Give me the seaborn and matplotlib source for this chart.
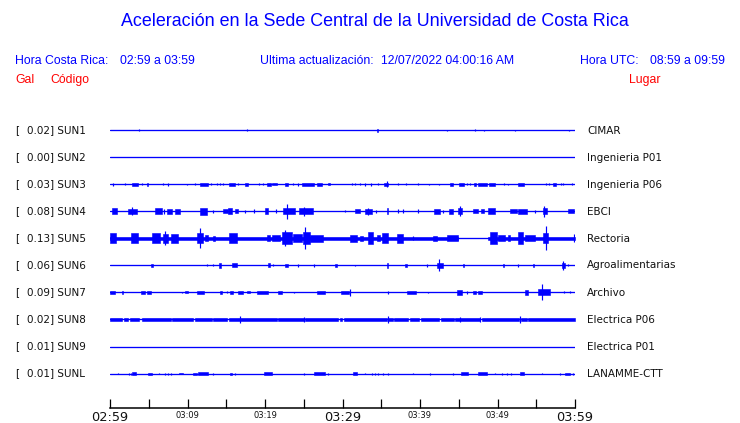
import matplotlib
matplotlib.use("Agg")
import matplotlib.pyplot as plt
import pandas as pd
import seaborn as sns

# ---------------- data ----------------
codes = ["SUN1", "SUN2", "SUN3", "SUN4", "SUN5", "SUN6", "SUN7", "SUN8", "SUN9", "SUNL"]
places = ["CIMAR", "Ingenieria P01", "Ingenieria P06", "EBCI", "Rectoria",
          "Agroalimentarias", "Archivo", "Electrica P06", "Electrica P01", "LANAMME-CTT"]
gal = [0.02, 0.00, 0.03, 0.08, 0.13, 0.06, 0.09, 0.02, 0.01, 0.01]

tick_minutes = [0, 5, 10, 15, 20, 25, 30, 35, 40, 45, 50, 55, 60]
tick_labels = ["02:59", "", "03:09", "", "03:19", "", "03:29", "", "03:39", "", "03:49", "", "03:59"]
major_labels = ["02:59", "03:29", "03:59"]

# bursts: (start minute, end minute, half amplitude)
ev_sun1 = [(3.78, 3.78, 1), (17.7, 17.7, 1), (34.4, 34.6, 1.3), (43.5, 43.5, 0.8),
           (47.1, 47.1, 1), (48.3, 48.3, 0.7), (52.3, 52.3, 0.8), (59.2, 59.2, 0.7)]
ev_sun2 = []
ev_sun3 = [(0.43, 0.43, 1.3), (1.94, 1.94, 1), (2.8, 3.66, 1.3), (4.17, 4.17, 1), (4.73, 4.95, 1.3),
           (6.88, 6.88, 1), (7.53, 7.53, 1.3), (9.89, 9.89, 0.8), (10.97, 10.97, 1), (11.61, 12.6, 1.3),
           (13.03, 13.03, 1), (13.76, 13.76, 1), (14.19, 14.19, 1), (14.62, 14.62, 1), (15.35, 16.13, 1.3),
           (16.56, 16.56, 1), (17.42, 17.85, 1.3), (19.23, 19.23, 1), (19.78, 19.78, 1), (20.3, 20.73, 1.3),
           (20.86, 21.51, 1), (22.58, 23.01, 1.3), (23.66, 23.66, 1), (24.3, 24.3, 1.3), (24.82, 26.28, 1.3),
           (26.75, 27.31, 1.3), (28.09, 28.43, 1), (31.27, 31.27, 1), (31.61, 31.61, 1), (32.26, 32.26, 1),
           (32.9, 32.9, 1.3), (33.63, 33.63, 1.3), (34.62, 34.62, 1), (35.4, 35.91, 1.6), (35.7, 35.7, 3),
           (37.2, 37.2, 1), (38.19, 38.19, 1), (39.78, 39.78, 1), (41.2, 41.2, 0.8), (42.49, 42.49, 0.8),
           (43.87, 44.22, 1.3), (45.03, 45.63, 1.3), (46.02, 46.02, 1), (46.45, 46.45, 1), (47.01, 47.27, 1.3),
           (47.53, 48.6, 1.3), (48.9, 49.68, 1.3), (50.88, 50.88, 1), (51.4, 51.4, 0.8), (52.69, 53.38, 1.3),
           (56.22, 56.22, 1), (56.65, 56.65, 1), (57.2, 57.5, 1.3), (58.19, 58.19, 1), (58.5, 58.5, 1),
           (59.57, 59.57, 1)]
ev_sun4 = [(0.2, 0.86, 3), (2.37, 3.44, 2.5), (2.8, 2.8, 4), (5.81, 6.67, 3), (7.01, 7.01, 2.5),
           (7.31, 7.96, 2.5), (8.39, 9.03, 2.5), (11.61, 12.47, 3.5), (13.25, 13.25, 1.7), (14.62, 15.18, 2),
           (15.27, 15.78, 3), (16.13, 16.56, 2), (17.42, 17.42, 1.3), (18.62, 18.62, 2), (20.0, 20.34, 3),
           (21.38, 21.38, 2), (22.37, 23.87, 3), (22.8, 22.8, 7.3), (24.43, 26.24, 3), (25.08, 25.08, 4.5),
           (30.32, 30.32, 1), (31.61, 32.26, 2), (32.9, 33.76, 2.5), (33.33, 33.33, 3.5), (34.28, 34.28, 1.3),
           (35.7, 35.91, 3), (37.2, 37.2, 2), (37.85, 37.85, 2), (39.78, 39.78, 2), (41.81, 42.58, 2.5),
           (43.01, 43.01, 1.3), (43.74, 44.3, 2.5), (44.95, 45.46, 3), (45.16, 45.16, 5), (46.8, 47.44, 2),
           (47.87, 48.3, 2), (48.82, 49.68, 3), (51.61, 52.47, 2), (52.69, 53.76, 2.3), (54.84, 54.84, 1.3),
           (55.83, 56.34, 3), (56.04, 56.04, 5.5), (59.05, 59.91, 2)]
ev_sun5 = [(0.0, 44.9, 1.3), (48.8, 60.0, 1.3),
           (0.0, 0.73, 5), (2.71, 3.57, 5), (5.38, 6.45, 5), (6.88, 7.53, 4.5), (7.1, 7.1, 7),
           (7.87, 8.73, 4.5), (11.18, 12.04, 5), (11.61, 11.61, 10), (12.26, 12.69, 3), (13.33, 13.55, 2.5),
           (15.35, 16.34, 5), (20.22, 20.65, 3), (20.86, 21.94, 3), (22.15, 23.44, 6), (22.58, 22.58, 8),
           (23.66, 24.73, 4), (24.95, 25.81, 6), (25.16, 25.16, 11), (25.81, 27.53, 3.5), (30.97, 31.83, 3.5),
           (32.26, 32.69, 2.5), (33.33, 33.98, 6), (34.41, 34.84, 3), (35.14, 35.83, 5), (36.99, 37.85, 4.5),
           (39.14, 39.14, 2), (41.72, 42.15, 2.5), (43.44, 44.95, 3), (49.03, 49.89, 6), (50.02, 50.97, 3),
           (51.4, 51.61, 3), (52.69, 53.33, 6), (53.55, 54.84, 3), (55.91, 56.56, 5), (56.22, 56.22, 12),
           (59.91, 59.91, 4)]
ev_sun6 = [(5.29, 5.59, 1.3), (12.56, 12.56, 1), (13.33, 13.33, 1), (14.11, 14.28, 2.3), (15.78, 16.34, 2),
           (20.43, 20.65, 2), (21.08, 21.08, 1), (22.58, 23.01, 1.7), (24.3, 24.3, 1.3), (26.37, 26.37, 1.3),
           (29.03, 29.25, 1.7), (31.61, 31.61, 0.7), (35.7, 35.91, 2.3), (38.06, 38.28, 1.7), (40.95, 40.95, 1.3),
           (42.24, 43.01, 2.5), (42.49, 42.49, 6), (45.59, 45.72, 1.7), (50.67, 50.8, 1.7), (52.6, 52.6, 1.3),
           (54.62, 54.75, 1.7), (58.37, 58.71, 2.5), (58.49, 58.49, 4.7), (59.05, 59.05, 1)]
ev_sun7 = [(0.0, 0.65, 1.3), (1.51, 1.63, 1.3), (4.0, 4.52, 1.5), (4.82, 5.29, 1.5), (9.25, 9.25, 0.7),
           (9.68, 10.11, 1), (11.18, 12.09, 1.5), (14.19, 14.41, 1.5), (15.05, 15.05, 1), (15.48, 15.91, 1.3),
           (16.47, 17.2, 1.5), (17.63, 18.06, 1), (18.92, 20.43, 1.5), (21.72, 22.15, 1.5), (23.78, 23.78, 0.7),
           (26.75, 27.74, 1.5), (29.81, 30.88, 1.3), (31.01, 31.01, 3.7), (35.83, 35.83, 1.3), (38.28, 39.44, 1.5),
           (41.08, 41.08, 0.7), (44.73, 45.46, 2.3), (46.02, 46.02, 1.3), (46.88, 47.18, 1.7), (47.53, 47.96, 1.7),
           (53.55, 53.89, 2.3), (55.27, 56.77, 3), (55.7, 55.7, 8), (58.62, 58.62, 1), (59.35, 59.35, 1)]
ev_sun8 = [(0.0, 1.59, 1.3), (1.85, 2.28, 1.3), (2.54, 3.74, 1.3), (4.17, 7.87, 1.3), (8.04, 10.75, 1.3),
           (10.97, 13.12, 1.3), (13.29, 15.1, 1.3), (15.35, 21.51, 1.3), (21.72, 24.99, 1.3), (25.16, 29.38, 1.3),
           (29.63, 29.98, 1.3), (30.24, 35.74, 1.3), (35.91, 36.52, 1.3), (36.69, 38.49, 1.3), (38.67, 39.91, 1.3),
           (40.09, 42.49, 1.3), (42.67, 44.34, 1.3), (44.52, 47.78, 1.3), (47.96, 52.82, 1.3), (52.99, 53.81, 1.3),
           (53.98, 60.0, 1.3), (16.77, 16.77, 3), (25.08, 25.08, 2.5), (35.83, 35.83, 3), (45.16, 45.16, 2.5),
           (47.74, 47.74, 2.5), (52.9, 52.9, 3)]
ev_sun9 = []
ev_sunl = [(1.08, 1.08, 0.7), (2.45, 2.45, 1), (2.71, 2.71, 1), (2.88, 3.31, 1.3), (4.95, 5.38, 1),
           (6.32, 6.32, 0.7), (7.1, 7.1, 1), (7.53, 7.53, 1), (7.83, 7.83, 1), (8.9, 9.46, 0.8),
           (10.75, 11.18, 1), (11.31, 12.69, 1.5), (13.33, 13.33, 1), (15.48, 15.7, 1), (16.13, 16.13, 1),
           (19.91, 20.86, 1.3), (25.08, 25.08, 1), (26.37, 27.74, 1.5), (28.17, 28.17, 1), (31.4, 31.83, 1.3),
           (32.9, 32.9, 0.7), (33.76, 33.76, 1), (34.19, 34.19, 1), (34.62, 34.62, 1), (35.27, 35.27, 1),
           (35.83, 35.83, 1), (39.14, 39.14, 0.7), (41.29, 41.29, 1), (44.3, 44.3, 1), (45.29, 46.24, 1.5),
           (47.44, 48.6, 1.5), (49.68, 49.68, 0.7), (50.54, 50.54, 1), (51.18, 51.18, 1), (51.74, 51.74, 1),
           (52.9, 53.46, 1.3), (55.7, 55.7, 0.7), (58.06, 58.06, 1), (58.71, 59.35, 1), (59.78, 59.78, 1)]

events = [ev_sun1, ev_sun2, ev_sun3, ev_sun4, ev_sun5, ev_sun6, ev_sun7, ev_sun8, ev_sun9, ev_sunl]

# ---------------- figure ----------------
W, H = 740, 423
BLUE = "#0000ff"
RED = "#ff0000"
TXT = "#111111"

sns.set_style("white")
plt.rcParams["font.family"] = ["DejaVu Sans"]

fig = plt.figure(figsize=(W / 100, H / 100), dpi=100)
ax_left, ax_right, ax_top, ax_bot = 110, 575, 100, 408
ax = fig.add_axes([ax_left / W, 1 - ax_bot / H, (ax_right - ax_left) / W, (ax_bot - ax_top) / H])
ax.set_facecolor("white")

y0, dy = 130.5, 27.0
trace_y = [y0 + dy * i for i in range(len(codes))]

base = pd.DataFrame({
    "station": [c for c in codes for _ in range(2)],
    "t": [tick_minutes[0], tick_minutes[-1]] * len(codes),
    "y": [y for y in trace_y for _ in range(2)],
})
sns.lineplot(data=base, x="t", y="y", units="station", estimator=None, color=BLUE,
             lw=0.95, ax=ax, legend=False)

for yc, evs in zip(trace_y, events):
    for t0, t1, a in evs:
        if t1 > t0:
            ax.fill_between([t0, t1], yc - a, yc + a, color=BLUE, lw=0.4)
        else:
            ax.vlines(t0, yc - a, yc + a, color=BLUE, lw=0.85)

ax.set_xlim(tick_minutes[0], tick_minutes[-1])
ax.set_ylim(ax_bot, ax_top)
ax.set_xlabel("")
ax.set_ylabel("")
ax.set_yticks([])
for s in ["top", "left", "right"]:
    ax.spines[s].set_visible(False)
ax.spines["bottom"].set_color("black")
ax.spines["bottom"].set_linewidth(1.1)
ax.set_xticks(tick_minutes)
ax.set_xticklabels(tick_labels)
ax.tick_params(axis="x", direction="in", length=6.6, width=0.9, color="black", pad=2.5,
               bottom=True, labelcolor=TXT)
for lab in ax.get_xticklabels():
    lab.set_fontsize(9.3 if lab.get_text() in major_labels else 6)
    lab.set_verticalalignment("top")

# station labels
def fx(px):
    return px / W

def fy(py):
    return 1 - py / H

for yc, code, place, g in zip(trace_y, codes, places, gal):
    fig.text(fx(15), fy(yc), "[", fontsize=7.5, color=TXT, va="center", ha="left")
    fig.text(fx(27), fy(yc), f"{g:.2f}] {code}", fontsize=7.5, color=TXT, va="center", ha="left")
    fig.text(fx(587), fy(yc), place, fontsize=7.5, color=TXT, va="center", ha="left")

# header
HF = "Liberation Sans"
fig.text(0.5 * (120 + 630) / W, fy(22), "Aceleración en la Sede Central de la Universidad de Costa Rica",
         fontsize=12.9, color=BLUE, ha="center", va="center", family=HF)
fig.text(fx(15), fy(61), "Hora Costa Rica:", fontsize=8.8, color=BLUE, va="center", family=HF)
fig.text(fx(120), fy(61), "02:59 a 03:59", fontsize=8.8, color=BLUE, va="center", family=HF)
fig.text(fx(260), fy(61), "Ultima actualización:", fontsize=8.8, color=BLUE, va="center", family=HF)
fig.text(fx(381), fy(61), "12/07/2022 04:00:16 AM", fontsize=8.8, color=BLUE, va="center", family=HF)
fig.text(fx(580), fy(61), "Hora UTC:", fontsize=8.8, color=BLUE, va="center", family=HF)
fig.text(fx(650), fy(61), "08:59 a 09:59", fontsize=8.8, color=BLUE, va="center", family=HF)
fig.text(fx(15), fy(80), "Gal", fontsize=8.8, color=RED, va="center", family=HF)
fig.text(fx(50), fy(80), "Código", fontsize=8.8, color=RED, va="center", family=HF)
fig.text(fx(629), fy(80), "Lugar", fontsize=8.8, color=RED, va="center", family=HF)

fig.savefig("out.png", dpi=100, facecolor="white")
